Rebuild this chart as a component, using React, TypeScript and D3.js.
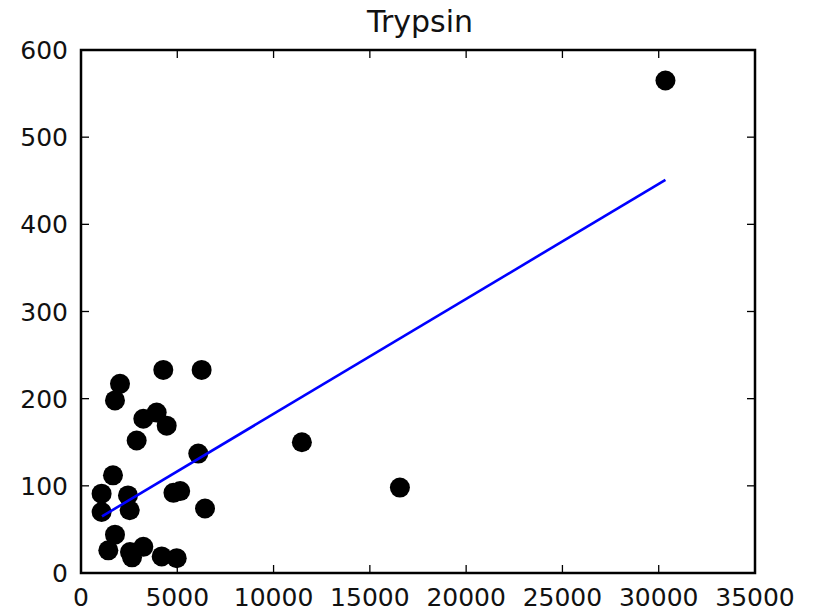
import React from "react";
import * as d3 from "d3";

const xs = [30350, 16560, 11470, 6265, 4273, 2025, 1765, 3930, 3236, 4450, 2890, 6090, 4800, 5150, 6440,
  1661, 1070, 2440, 1070, 2528, 1765, 1419, 2544, 2650, 3236, 4190, 4970];
const ys = [565, 98, 150, 233, 233, 217, 198, 184, 177, 169, 152, 137, 92, 94, 74,
  112, 91, 89, 70, 72, 44, 26, 24, 18, 30, 19, 17];
const fitX = [1090, 30350];
const fitY = [65, 451];
const xTicks = [0, 5000, 10000, 15000, 20000, 25000, 30000, 35000];
const yTicks = [0, 100, 200, 300, 400, 500, 600];
const title = "Trypsin";

export default function App() {
  const W = 817, H = 613;
  const left = 81, right = 755, top = 50, bottom = 573;
  const x = d3.scaleLinear().domain([0, 35000]).range([left, right]);
  const y = d3.scaleLinear().domain([0, 600]).range([bottom, top]);
  const font = "'DejaVu Sans', sans-serif";
  const line = d3.line<number>().x((_, i) => x(fitX[i])).y((_, i) => y(fitY[i]));
  const tl = 8;
  return (
    <svg width={W} height={H} style={{ position: "absolute", left: 0, top: 0, background: "#fff" }}>
      <text x={420} y={32} textAnchor="middle" fontFamily={font} fontSize={30} fill="#111">{title}</text>
      {xs.map((v, i) => (
        <circle key={i} cx={x(v)} cy={y(ys[i])} r={10} fill="#000" />
      ))}
      <path d={line([0, 1]) || ""} stroke="#0000ff" strokeWidth={2.6} fill="none" />
      {xTicks.map((t) => (
        <g key={t}>
          <line x1={x(t)} x2={x(t)} y1={bottom} y2={bottom - tl} stroke="#000" strokeWidth={1.3} />
          <line x1={x(t)} x2={x(t)} y1={top} y2={top + tl} stroke="#000" strokeWidth={1.3} />
          <text x={x(t)} y={606} textAnchor="middle" fontFamily={font} fontSize={25} fill="#111">{t}</text>
        </g>
      ))}
      {yTicks.map((t) => (
        <g key={t}>
          <line x1={left} x2={left + tl} y1={y(t)} y2={y(t)} stroke="#000" strokeWidth={1.3} />
          <line x1={right} x2={right - tl} y1={y(t)} y2={y(t)} stroke="#000" strokeWidth={1.3} />
          <text x={68} y={y(t) + 9} textAnchor="end" fontFamily={font} fontSize={25} fill="#111">{t}</text>
        </g>
      ))}
      <rect x={left} y={top} width={right - left} height={bottom - top} fill="none" stroke="#000" strokeWidth={2.5} />
    </svg>
  );
}
